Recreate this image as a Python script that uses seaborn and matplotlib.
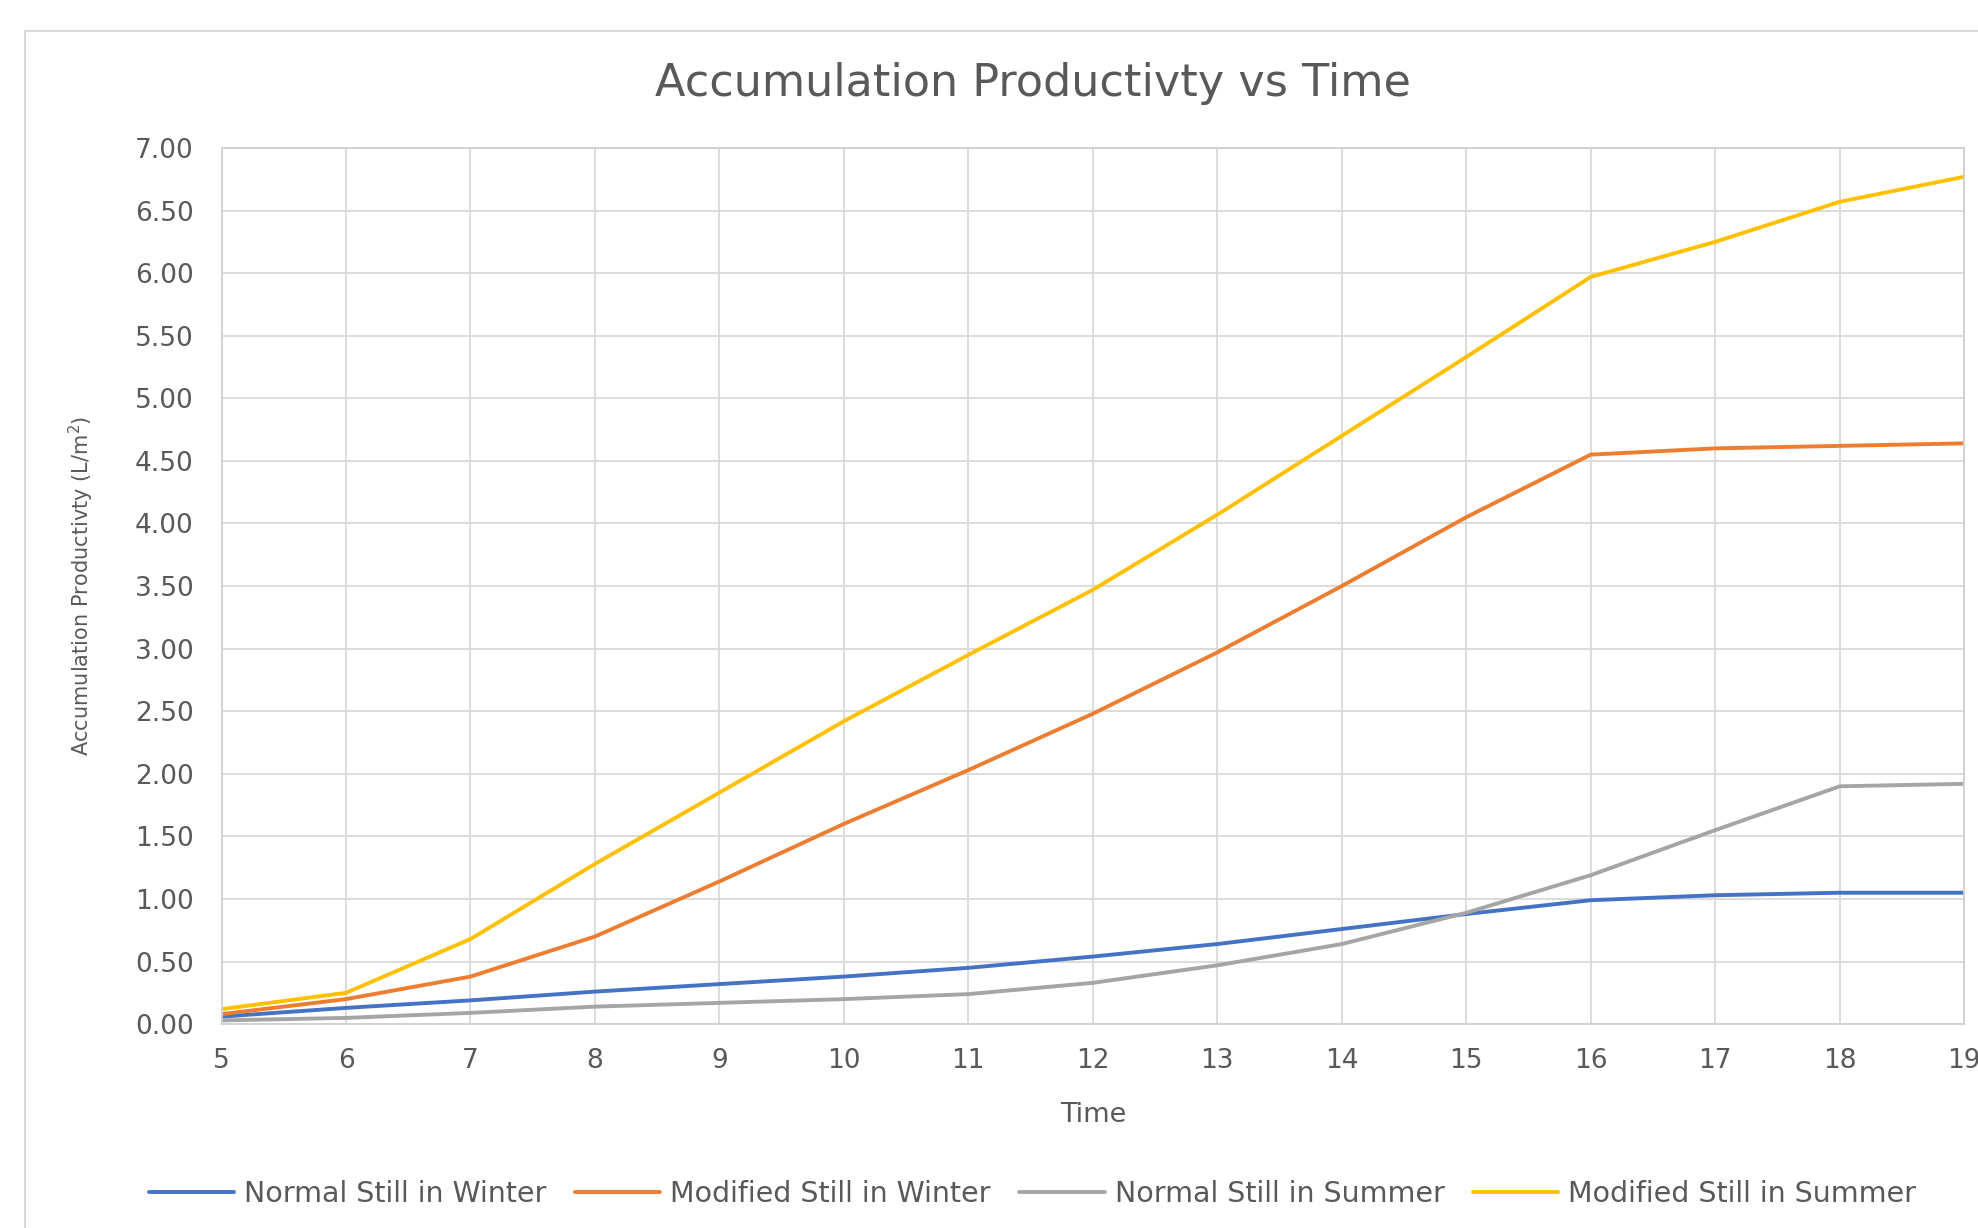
import pandas as pd
import numpy as np
import matplotlib.pyplot as plt
import seaborn as sns
from matplotlib.patches import Rectangle

# data
hours = [5, 6, 7, 8, 9, 10, 11, 12, 13, 14, 15, 16, 17, 18, 19]
normal_winter = [0.06, 0.13, 0.19, 0.26, 0.32, 0.38, 0.45, 0.54, 0.64, 0.76, 0.88, 0.99, 1.03, 1.05, 1.05]
modified_winter = [0.08, 0.20, 0.38, 0.70, 1.14, 1.60, 2.03, 2.48, 2.97, 3.50, 4.05, 4.55, 4.60, 4.62, 4.64]
normal_summer = [0.03, 0.05, 0.09, 0.14, 0.17, 0.20, 0.24, 0.33, 0.47, 0.64, 0.89, 1.19, 1.55, 1.90, 1.92]
modified_summer = [0.12, 0.25, 0.68, 1.28, 1.85, 2.42, 2.95, 3.47, 4.07, 4.70, 5.33, 5.97, 6.25, 6.57, 6.77]

series_names = ["Normal Still in Winter", "Modified Still in Winter",
                "Normal Still in Summer", "Modified Still in Summer"]
series_colors = ["#4472C4", "#ED7D31", "#A5A5A5", "#FFC000"]

df = pd.DataFrame({"Time": hours * 4,
                   "Value": normal_winter + modified_winter + normal_summer + modified_summer,
                   "Series": np.repeat(series_names, len(hours))})

sns.set_style("white")
plt.rcParams['font.family'] = ['DejaVu Sans']
text_color = "#595959"

fig = plt.figure(figsize=(19.78, 12.28), dpi=100)
ax = fig.add_axes([0.112, 0.166, 0.881, 0.7135])

sns.lineplot(data=df, x="Time", y="Value", hue="Series", hue_order=series_names,
             palette=series_colors, linewidth=2.8, ax=ax, legend=False)

ax.set_xlim(5, 19)
ax.set_ylim(0, 7)
ax.set_xticks(hours)
ax.set_yticks(np.arange(0, 7.01, 0.5))
ax.set_yticklabels([f"{v:.2f}" for v in np.arange(0, 7.01, 0.5)])
ax.grid(True, color="#d9d9d9", linewidth=1.3)
ax.set_axisbelow(True)
for s in ax.spines.values():
    s.set_color("#d0d0d0")
    s.set_linewidth(1.3)
ax.tick_params(axis='both', length=0, labelsize=19, labelcolor=text_color)
ax.tick_params(axis='y', pad=20)
ax.tick_params(axis='x', pad=17)
for lbl in ax.get_xticklabels():
    lbl.set_clip_on(False)

ax.set_xlabel("Time", fontsize=19.5, color=text_color, labelpad=20)
ax.set_ylabel("Accumulation Productivty (L/m$^2$)", fontsize=15, color=text_color)
ax.yaxis.set_label_coords(-0.072, 0.5)

fig.text(0.522, 0.932, "Accumulation Productivty vs Time", ha="center", va="center",
         fontsize=32, color=text_color)

# legend at the bottom
handles = [plt.Line2D([], [], color=c, linewidth=2.8) for c in series_colors]
fig.legend(handles, series_names, loc="center", bbox_to_anchor=(0.522, 0.028), ncol=4,
           frameon=False, fontsize=20.5, handlelength=3.0, handletextpad=0.35,
           columnspacing=1.0, labelcolor=text_color)

# outer chart frame
fig.patches.append(Rectangle((0.0126, -0.1), 1.5, 1.075, transform=fig.transFigure,
                             fill=False, edgecolor="#d9d9d9", linewidth=1.5))

plt.savefig("out.png", dpi=100)
